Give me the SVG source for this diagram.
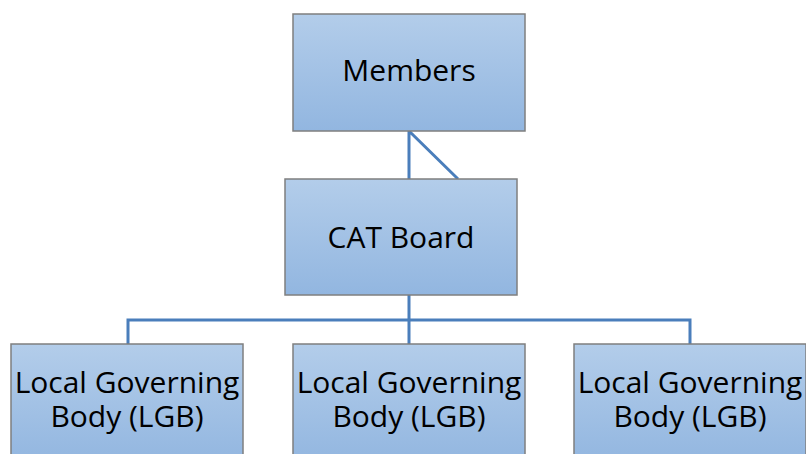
<svg xmlns="http://www.w3.org/2000/svg" width="806" height="454" viewBox="0 0 806 454">
<defs>
<linearGradient id="g" x1="0" y1="0" x2="0" y2="1">
<stop offset="0" stop-color="#b3cdea"/>
<stop offset="1" stop-color="#92b6e0"/>
</linearGradient>
</defs>
<style>
.box{fill:url(#g);stroke:#7f7f7f;stroke-width:1.5}
.t{font-family:"Open Sans","Noto Sans",sans-serif;font-size:30px;fill:#000;text-anchor:middle}
.c{fill:none;stroke:#4a7ebb;stroke-width:3}
</style>
<rect width="806" height="454" fill="#fff"/>
<g id="connectors">
<path class="c" d="M409 131V179M409 131L458 179"/>
<path class="c" d="M409 295V344M128 344V320H690V344"/>
</g>
<g id="members"><rect class="box" x="293" y="14" width="232" height="117"/><text class="t" x="409" y="81">Members</text></g>
<g id="cat"><rect class="box" x="285" y="179" width="232" height="116"/><text class="t" x="401" y="248">CAT Board</text></g>
<g id="lgb1"><rect class="box" x="11" y="344" width="232" height="120"/><text class="t"><tspan x="127" y="393">Local Governing</tspan><tspan x="127" y="427">Body (LGB)</tspan></text></g>
<g id="lgb2"><rect class="box" x="293" y="344" width="232" height="120"/><text class="t"><tspan x="409" y="393">Local Governing</tspan><tspan x="409" y="427">Body (LGB)</tspan></text></g>
<g id="lgb3"><rect class="box" x="574" y="344" width="232" height="120"/><text class="t"><tspan x="690" y="393">Local Governing</tspan><tspan x="690" y="427">Body (LGB)</tspan></text></g>
</svg>
